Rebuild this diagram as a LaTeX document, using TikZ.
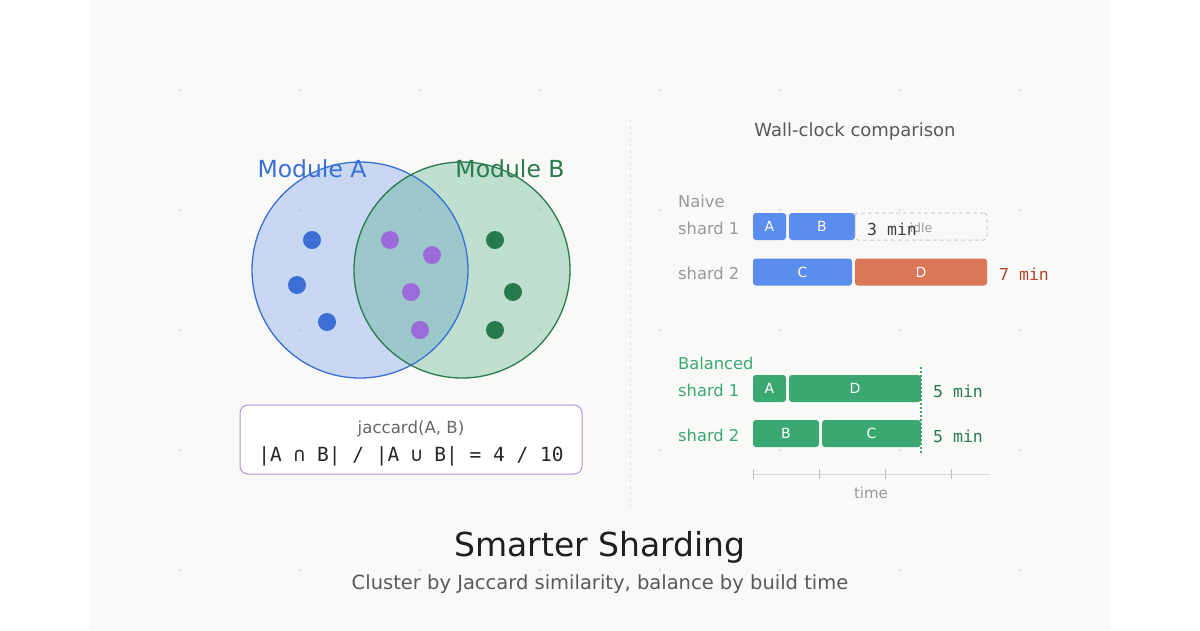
\documentclass[tikz,border=0pt]{standalone}
\usepackage{fontspec}
\setmainfont{DejaVu Sans}
\newfontfamily\monof{DejaVu Sans Mono}
\begin{document}
\begin{tikzpicture}[x=1pt,y=-1pt,
  every node/.style={inner sep=0pt},
  bar/.style={rounded corners=3pt, minimum height=27pt, text=white, font=\fontsize{14}{14}\selectfont},
  lbl/.style={anchor=west, font=\fontsize{16.3}{16}\selectfont},
  mins/.style={anchor=west, font=\monof\fontsize{16.5}{16}\selectfont},
  gdot/.style={circle, minimum size=18pt}]
\definecolor{panel}{HTML}{F9F9F7}
\definecolor{griddot}{HTML}{E2E2E0}
\definecolor{cA}{HTML}{3B6FD4}
\definecolor{cB}{HTML}{2A7A50}
\definecolor{purp}{HTML}{9B6BD9}
\definecolor{dgreen}{HTML}{267A4E}
\definecolor{barblue}{HTML}{5B8DEF}
\definecolor{vennblue}{HTML}{4A80E8}
\definecolor{barorange}{HTML}{D97757}
\definecolor{bargreen}{HTML}{3BA872}
\definecolor{redtxt}{HTML}{B0452A}
\definecolor{gtxt}{HTML}{999999}
\definecolor{jbox}{HTML}{B395D6}
\useasboundingbox (0,0) rectangle (1200,630);
\fill[white] (0,0) rectangle (1200,630);
\fill[panel] (90,0) rectangle (1110,630);
\foreach \x in {180,300,420,540,660,780,900,1020}
  \foreach \y in {90,210,330,450,570}
    \fill[griddot] (\x,\y) circle (1.6);
% divider
\draw[griddot, line width=1pt, dashed] (630,120) -- (630,510);
% Venn
\fill[vennblue, opacity=0.28] (360,270) circle (108);
\fill[bargreen, opacity=0.30] (462,270) circle (108);
\draw[cA, line width=1.3pt] (360,270) circle (108);
\draw[cB, line width=1.3pt] (462,270) circle (108);
\node[text=cA, font=\fontsize{23.5}{24}\selectfont] (mA) at (312,169) {Module A};
\node[text=cB, font=\fontsize{23.5}{24}\selectfont] (mB) at (510,169) {Module B};
\foreach \p/\c [count=\i] in {{312,240}/cA,{297,285}/cA,{327,322}/cA,{390,240}/purp,{432,255}/purp,{411,292}/purp,{420,330}/purp,{495,240}/dgreen,{513,292}/dgreen,{495,330}/dgreen}
  \node[gdot, fill=\c] (d\i) at (\p) {};
% jaccard box
\draw[jbox, fill=white, line width=1pt, rounded corners=8pt] (240,405) rectangle (582,474);
\node[text=black!60, font=\fontsize{16.6}{16}\selectfont] (jt) at (411,429) {jaccard(A, B)};
\node[text=black!85, font=\monof\fontsize{19.5}{20}\selectfont] (jf) at (411,456) {|A ∩ B| / |A ∪ B| = 4 / 10};
% right panel
\node[text=black!65, font=\fontsize{18}{18}\selectfont] (wc) at (855,132) {Wall-clock comparison};
\node[lbl, text=gtxt] (nv) at (678,201) {Naive};
\node[lbl, text=gtxt] (n1) at (678,228) {shard 1};
\node[lbl, text=gtxt] (n2) at (678,273) {shard 2};
\node[bar, fill=barblue, minimum width=33pt] (nA) at (769.5,226.5) {A};
\node[bar, fill=barblue, minimum width=66pt] (nB) at (822,226.5) {B};
\node[rounded corners=3pt, draw=black!20, dash pattern=on 4pt off 3pt, line width=1pt, minimum width=132pt, minimum height=27pt] (idle) at (921,226.5) {};
\node[text=gtxt, font=\fontsize{12.5}{12}\selectfont] (idt) at (921,228) {idle};
\node[mins, text=black!75] (n3) at (867,229) {3 min};
\node[bar, fill=barblue, minimum width=99pt] (nC) at (802.5,272) {C};
\node[bar, fill=barorange, minimum width=132pt] (nD) at (921,272) {D};
\node[mins, text=redtxt] (n7) at (999,274) {7 min};
% balanced
\node[lbl, text=bargreen] (bl) at (678,363) {Balanced};
\node[lbl, text=bargreen] (b1) at (678,390) {shard 1};
\node[lbl, text=bargreen] (b2) at (678,435) {shard 2};
\node[bar, fill=bargreen, minimum width=33pt] (bA) at (769.5,388.5) {A};
\node[bar, fill=bargreen, minimum width=132pt] (bD) at (855,388.5) {D};
\node[bar, fill=bargreen, minimum width=66pt] (bB) at (786,433.5) {B};
\node[bar, fill=bargreen, minimum width=99pt] (bC) at (871.5,433.5) {C};
\coordinate (dt) at (921,367);
\coordinate (db) at (921,455);
\draw[bargreen, line width=1.3pt, dash pattern=on 1.5pt off 2.5pt] (dt) -- (db);
\node[mins, text=cB] (b5a) at (933,391) {5 min};
\node[mins, text=cB] (b5b) at (933,436) {5 min};
% time axis
\coordinate (t0) at (753,474);
\coordinate (t1) at (990,474);
\draw[black!15, line width=1pt] (t0) -- (t1);
\foreach \x in {753,819,885,951} \draw[black!25, line width=1pt] (\x,469) -- (\x,479);
\node[text=gtxt, font=\fontsize{15}{15}\selectfont] (tm) at (871,493) {time};
% title
\node[text=black!88, font=\fontsize{33}{33}\selectfont] (title) at (600,547) {Smarter Sharding};
\node[text=black!65, font=\fontsize{19.5}{20}\selectfont] (sub) at (600,584) {Cluster by Jaccard similarity, balance by build time};
\end{tikzpicture}
\end{document}
